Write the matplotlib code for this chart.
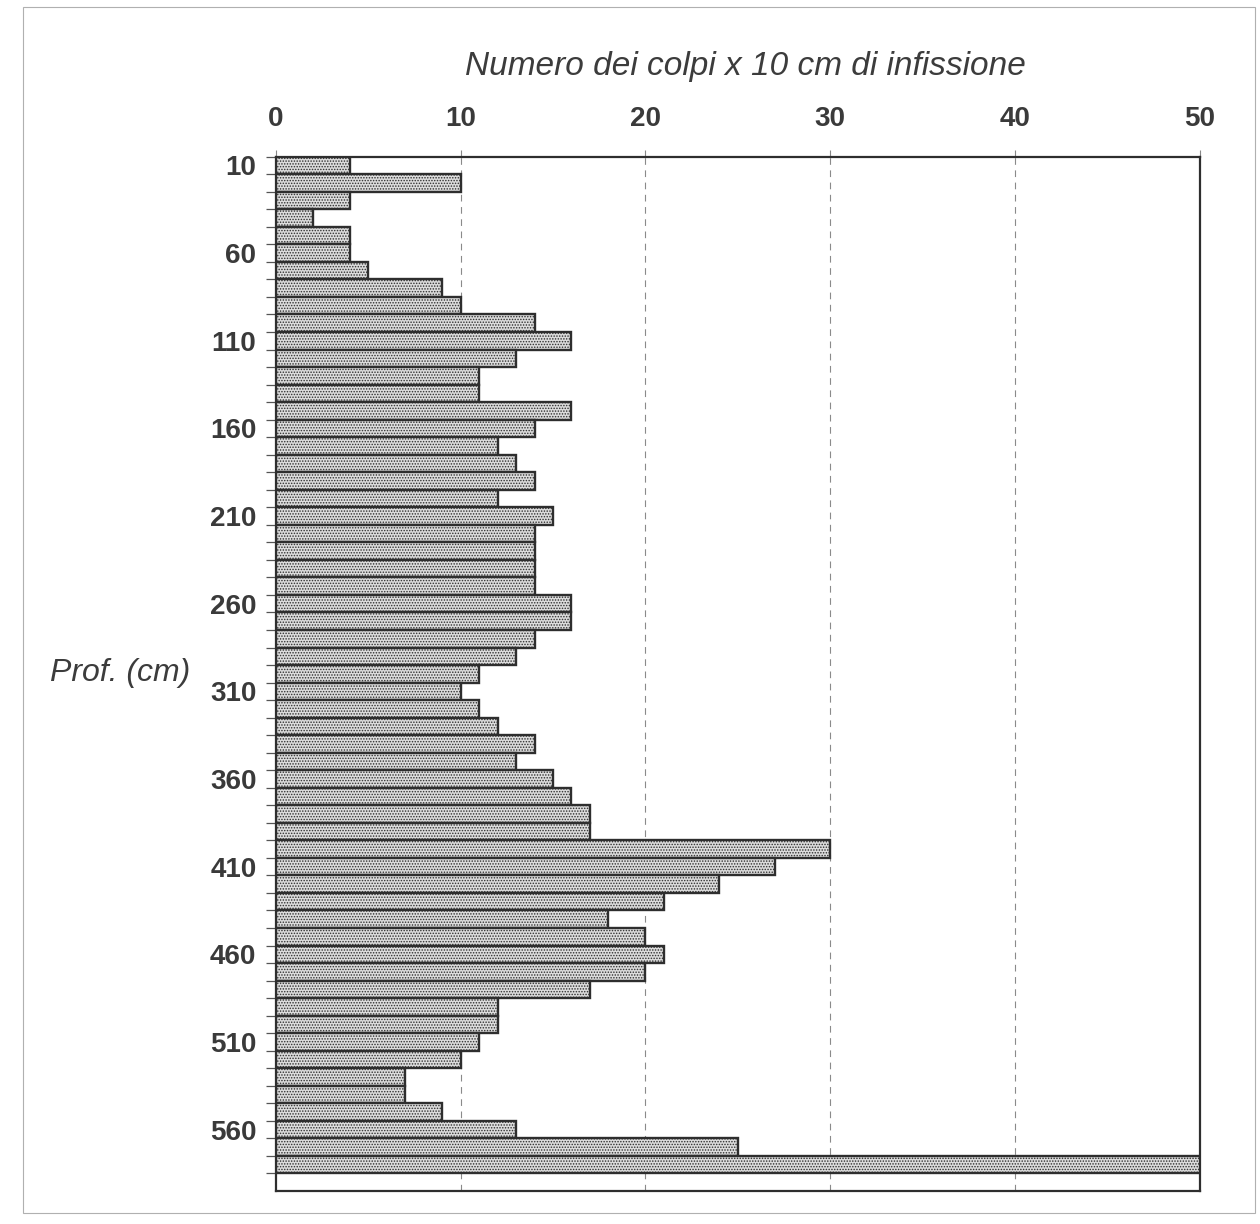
import numpy as np
import matplotlib.pyplot as plt
from matplotlib.patches import Rectangle
from matplotlib.ticker import FixedLocator

plt.rcParams['font.family'] = ['Liberation Sans', 'DejaVu Sans']
plt.rcParams['hatch.color'] = '#5a5a5a'
plt.rcParams['hatch.linewidth'] = 0.7

#%% data read off the scanned penetrometer log
depths = list(range(10, 590, 10))
colpi = [4, 10, 4, 2, 4, 4, 5, 9, 10, 14,
         16, 13, 11, 11, 16, 14, 12, 13, 14, 12,
         15, 14, 14, 14, 14, 16, 16, 14, 13, 11,
         10, 11, 12, 14, 13, 15, 16, 17, 17, 30,
         27, 24, 21, 18, 20, 21, 20, 17, 12, 12,
         11, 10, 7, 7, 9, 13, 25, 50]
xticks = [0, 10, 20, 30, 40, 50]
ylabels = depths[::5]

xtitle = 'Numero dei colpi x 10 cm di infissione'
ytitle = 'Prof. (cm)'

#%%
fig = plt.figure(figsize=(12.6, 12.24), dpi=100)
ax = fig.add_axes([0.219, 0.027, 0.733, 0.845])

pos = np.arange(len(depths))
ax.barh(pos, colpi, height=1.0, color='#dcdcdc', edgecolor='#2e2e2e',
        linewidth=1.7, hatch='......', zorder=3)

ax.set_xlim(0, 50)
ax.set_ylim(len(depths) + 0.5, -0.5)   # one empty slot below the last bar

ax.xaxis.tick_top()
ax.set_xticks(xticks)
ax.set_xticklabels([str(v) for v in xticks], fontsize=20, fontweight='bold',
                   color='#3a3a3a')
ax.tick_params(axis='x', length=5, width=0.8, color='#888888', pad=13)
for v in xticks[1:-1]:
    ax.axvline(v, color='#8a8a8a', lw=0.8, ls=(0, (6, 5)), zorder=1)

ax.set_yticks(pos[::5])
ax.set_yticklabels([str(v) for v in ylabels], fontsize=20, fontweight='bold',
                   color='#3a3a3a')
ax.tick_params(axis='y', which='major', length=0, pad=14)
ax.yaxis.set_minor_locator(FixedLocator(np.arange(len(depths) + 1) - 0.5))
ax.tick_params(axis='y', which='minor', length=7, width=0.9, color='#555555')

for s in ax.spines.values():
    s.set_color('#2e2e2e')
    s.set_linewidth(1.6)

fig.text(0.592, 0.946, xtitle, fontsize=24, style='italic', color='#3c3c3c',
         ha='center', va='center')
fig.text(0.095, 0.450, ytitle, fontsize=23, style='italic', color='#3c3c3c',
         ha='center', va='center')

# faint border of the scanned page
fig.add_artist(Rectangle((0.018, 0.009), 0.978, 0.985, transform=fig.transFigure,
                         fill=False, edgecolor='#b0b0b0', lw=0.8))

fig.savefig('out.png', dpi=100)
